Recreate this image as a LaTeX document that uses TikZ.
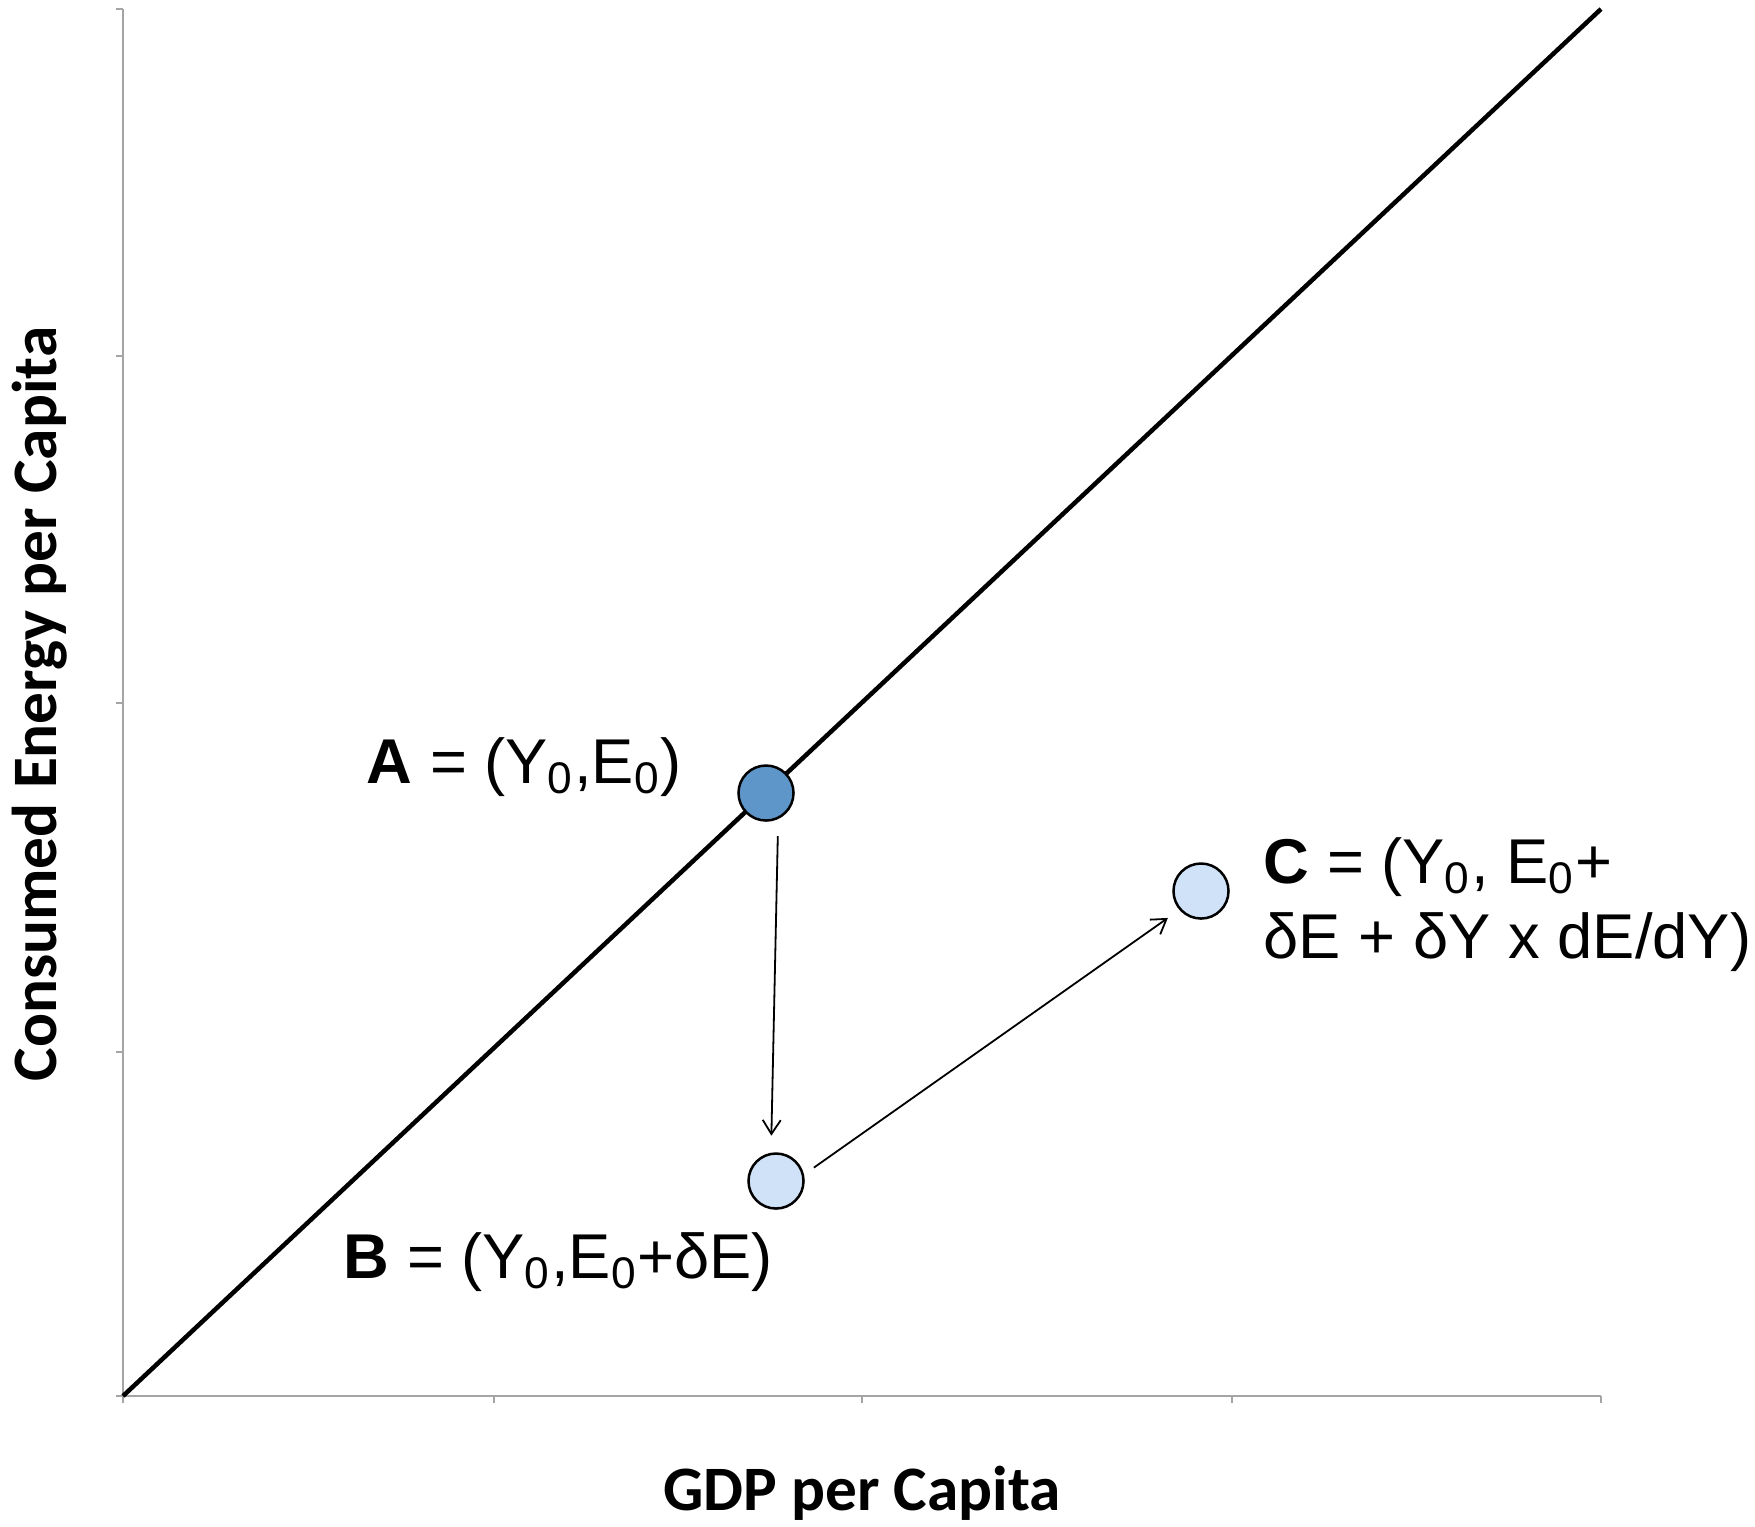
\documentclass[tikz,border=0pt]{standalone}
\usepackage{fontspec}
\setmainfont{Liberation Sans}
\newfontfamily\calibrifont{Carlito}
\usetikzlibrary{arrows.meta}

\definecolor{axisgray}{RGB}{165,165,165}
\definecolor{pointdark}{RGB}{95,150,201}
\definecolor{pointlight}{RGB}{207,226,248}

\begin{document}
\begin{tikzpicture}[x=0.01cm, y=-0.01cm,
    point/.style={circle, draw=black, line width=0.025cm, minimum size=0.55cm, inner sep=0pt},
    pointlabel/.style={inner sep=0pt, font=\fontsize{18}{21}\selectfont},
    axislabel/.style={inner sep=0pt, font=\calibrifont\bfseries\fontsize{18}{21}\selectfont},
    axisline/.style={axisgray, line width=0.015cm},
    move/.style={-{Straight Barb[length=0.14cm,width=0.18cm]}, line width=0.018cm}]

    \useasboundingbox (0,0) rectangle (1755,1526);

    % Axes
    \draw[axisline] (123,9) -- (123,1396) -- (1601,1396);
    \foreach \y in {9,356,703,1052,1396}
        \draw[axisline] (116,\y) -- (123,\y);
    \foreach \x in {123,494,862,1232,1601}
        \draw[axisline] (\x,1396) -- (\x,1403);

    % Line through the origin
    \draw[line width=0.045cm] (123,1396) -- (1601,9);

    % Points
    \node[point, fill=pointdark] (A) at (766,793) {};
    \node[point, fill=pointlight] (B) at (776,1181) {};
    \node[point, fill=pointlight] (C) at (1201,891) {};

    % Point labels
    \node[pointlabel, anchor=base west] (labelA) at (366,783)
        {\textbf{A} = (Y\textsubscript{0},E\textsubscript{0})};
    \node[pointlabel, anchor=base west] (labelB) at (343,1278)
        {\textbf{B} = (Y\textsubscript{0},E\textsubscript{0}+δE)};
    \node[pointlabel, anchor=base west] (labelC) at (1263,883)
        {\textbf{C} = (Y\textsubscript{0}, E\textsubscript{0}+};
    \node[pointlabel, anchor=base west] (labelCc) at (1263,958)
        {δE + δY x dE/dY)};

    % Arrows A to B to C
    \draw[move, shorten <=0.17cm, shorten >=0.17cm] (A.-65) -- (B.100);
    \draw[move, shorten <=0.12cm, shorten >=0.14cm] (B.13) -- (C.221);

    % Axis titles
    \node[axislabel, anchor=base] (xtitle) at (862,1510) {GDP per Capita};
    \node[axislabel, anchor=base, rotate=90] (ytitle) at (57,704) {Consumed Energy per Capita};

\end{tikzpicture}
\end{document}
